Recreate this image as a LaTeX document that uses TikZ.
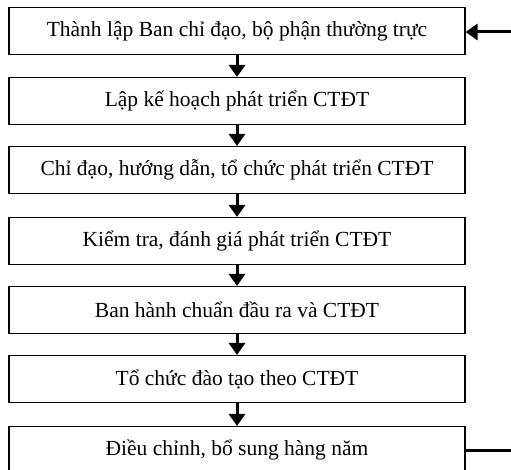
\documentclass[tikz,border=0pt]{standalone}
\usepackage{fontspec}
\setmainfont{Liberation Serif}
\usetikzlibrary{positioning,arrows.meta}

\begin{document}
\begin{tikzpicture}[x=1pt,y=-1pt,
    buoc/.style={draw, line width=1.1pt, minimum width=456pt, minimum height=47pt, inner sep=0pt,
        font=\fontsize{21.5}{25}\selectfont},
    muiten/.style={line width=3pt, -{Triangle[width=16pt,length=12pt]}}]
    \useasboundingbox (0,0) rectangle (511,470);

    \node[buoc] (B1) at (237,31) {Thành lập Ban chỉ đạo, bộ phận thường trực};
    \node[buoc] (B2) at (237,101) {Lập kế hoạch phát triển CTĐT};
    \node[buoc] (B3) at (237,170) {Chỉ đạo, hướng dẫn, tổ chức phát triển CTĐT};
    \node[buoc] (B4) at (237,241) {Kiểm tra, đánh giá phát triển CTĐT};
    \node[buoc] (B5) at (237,310) {Ban hành chuẩn đầu ra và CTĐT};
    \node[buoc] (B6) at (237,379) {Tổ chức đào tạo theo CTĐT};
    \node[buoc] (B7) at (237,450) {Điều chỉnh, bổ sung hàng năm};

    \foreach \a/\b in {B1/B2,B2/B3,B3/B4,B4/B5,B5/B6,B6/B7}
        {\draw[muiten] (\a) -- (\b);}

    % vong phan hoi (bi cat o mep phai)
    \coordinate (R1) at (511,32);
    \coordinate (R7) at (511,450);
    \draw[muiten] (R1) -- (B1.east |- R1);
    \draw[line width=3pt] (B7.east |- R7) -- (R7);
\end{tikzpicture}
\end{document}
